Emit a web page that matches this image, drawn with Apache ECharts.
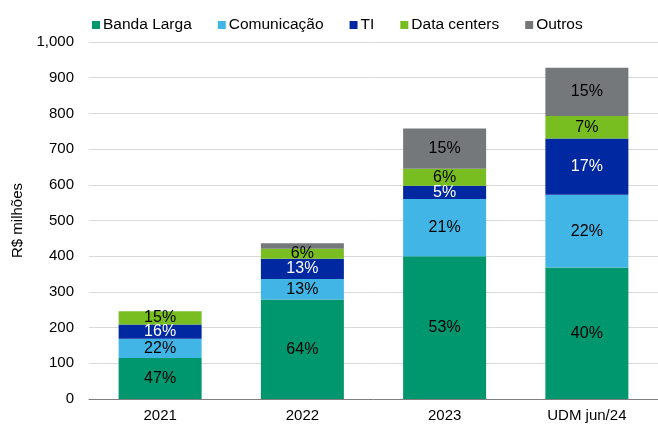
<!DOCTYPE html>
<html>
<head>
<meta charset="utf-8">
<script src="https://cdn.jsdelivr.net/npm/echarts@6/dist/echarts.min.js"></script>
<style>
  html, body { margin: 0; padding: 0; background: #fff; }
  #chart { width: 658px; height: 425px; }
</style>
</head>
<body>
<div id="chart"></div>
<script>
// data (R$ milhões)
var categories = ['2021', '2022', '2023', 'UDM jun/24'];
var bandaLarga = [115, 279, 400, 368];
var comunicacao = [54, 57, 160, 204];
var ti = [40, 57, 37, 158];
var dataCenters = [37, 28, 48, 63];
var outros = [0, 15, 113, 135];
var yTicks = [0, 100, 200, 300, 400, 500, 600, 700, 800, 900, 1000];

var seriesDefs = [
    { name: 'Banda Larga', data: bandaLarga, color: '#00966E', text: '#000' },
    { name: 'Comunicação', data: comunicacao, color: '#41B6E6', text: '#000' },
    { name: 'TI', data: ti, color: '#0028A0', text: '#fff' },
    { name: 'Data centers', data: dataCenters, color: '#78BE20', text: '#000' },
    { name: 'Outros', data: outros, color: '#75787B', text: '#000' }
];

var totals = categories.map(function (c, i) {
    return seriesDefs.reduce(function (s, d) { return s + d.data[i]; }, 0);
});

var chartDom = document.getElementById('chart');
var myChart = echarts.init(chartDom);
var option;

option = {
    animation: false,
    textStyle: { fontFamily: 'Liberation Sans, Arial, sans-serif' },
    legend: {
        top: 12,
        left: 87,
        itemWidth: 8,
        itemHeight: 8,
        itemGap: 26,
        icon: 'rect',
        textStyle: { fontSize: 15.5, color: '#000', padding: [0, 0, 0, -2] },
        data: seriesDefs.map(function (d) { return d.name; })
    },
    grid: {
        left: 89,
        top: 42,
        width: 576,
        height: 357,
        containLabel: false
    },
    xAxis: {
        type: 'category',
        data: categories,
        axisTick: { show: false },
        axisLine: { lineStyle: { color: '#7f7f7f', width: 1 } },
        axisLabel: { fontSize: 15, color: '#000', margin: 9 }
    },
    yAxis: {
        type: 'value',
        min: yTicks[0],
        max: yTicks[yTicks.length - 1],
        interval: 100,
        name: 'R$ milhões',
        nameLocation: 'middle',
        nameRotate: 90,
        nameGap: 57,
        nameTextStyle: { fontSize: 15, color: '#000' },
        axisLine: { show: false },
        axisTick: { show: false },
        axisLabel: {
            fontSize: 15,
            color: '#000',
            margin: 15,
            formatter: function (v) { return v.toLocaleString('en-US'); }
        },
        splitLine: { lineStyle: { color: '#d9d9d9', width: 1 } }
    },
    series: seriesDefs.map(function (d) {
        return {
            name: d.name,
            type: 'bar',
            stack: 'total',
            barWidth: 83,
            data: d.data,
            itemStyle: { color: d.color },
            label: {
                show: true,
                position: 'inside',
                fontSize: 16,
                color: d.text,
                formatter: function (p) {
                    var pct = Math.round(p.value / totals[p.dataIndex] * 100);
                    return pct >= 5 ? pct + '%' : '';
                }
            }
        };
    })
};

option && myChart.setOption(option);

window.onresize = function () {
    myChart.resize();
};
</script>
</body>
</html>
